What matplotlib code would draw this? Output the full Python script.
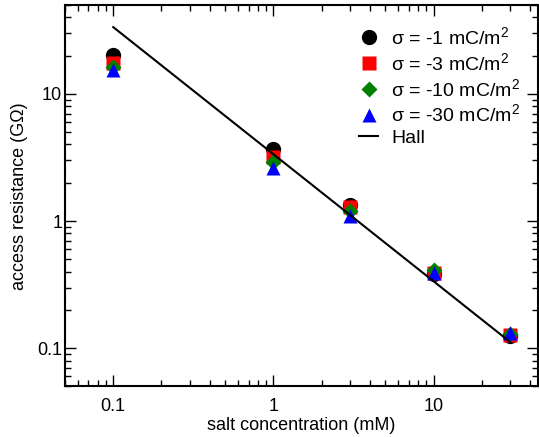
import numpy as np
import matplotlib
matplotlib.use("Agg")
import matplotlib.pyplot as plt
from matplotlib.ticker import LogLocator, FixedLocator, NullFormatter

plt.rcParams["font.family"] = ["Liberation Sans", "DejaVu Sans"]
plt.rcParams["mathtext.fontset"] = "custom"
plt.rcParams["mathtext.rm"] = "Liberation Sans"
plt.rcParams["mathtext.it"] = "Liberation Sans:italic"

# data
salt = [0.1, 1, 3, 10, 30]
r_sig1 = [20.1, 3.7, 1.33, 0.38, 0.125]
r_sig3 = [17.4, 3.2, 1.30, 0.39, 0.127]
r_sig10 = [16.2, 2.9, 1.20, 0.41, 0.130]
r_sig30 = [15.3, 2.6, 1.10, 0.39, 0.132]
hall_x = [0.1, 30]
hall_y = [33.5, 0.112]

labels = ["σ = -1 mC/m$^2$", "σ = -3 mC/m$^2$",
          "σ = -10 mC/m$^2$", "σ = -30 mC/m$^2$"]

fig = plt.figure(figsize=(5.39, 4.37), dpi=100)
ax = fig.add_axes([0.1206, 0.1156, 0.878, 0.873])

ax.plot(salt, r_sig1, "o", color="black", ms=11, mec="none", label=labels[0])
ax.plot(salt, r_sig3, "s", color="red", ms=10, mec="none", label=labels[1])
ax.plot(salt, r_sig10, "D", color="green", ms=7.8, mec="none", label=labels[2])
ax.plot(salt, r_sig30, "^", color="blue", ms=10.5, mec="none", label=labels[3])
ax.plot(hall_x, hall_y, "-", color="black", lw=1.5, label="Hall")

ax.set_xscale("log")
ax.set_yscale("log")
ax.set_xlim(0.05, 45)
ax.set_ylim(0.05, 50)

ax.xaxis.set_major_locator(FixedLocator([0.1, 1, 10]))
ax.yaxis.set_major_locator(FixedLocator([0.1, 1, 10]))
ax.set_xticklabels(["0.1", "1", "10"])
ax.set_yticklabels(["0.1", "1", "10"])
ax.xaxis.set_minor_locator(LogLocator(base=10, subs=np.arange(2, 10), numticks=20))
ax.yaxis.set_minor_locator(LogLocator(base=10, subs=np.arange(2, 10), numticks=20))
ax.xaxis.set_minor_formatter(NullFormatter())
ax.yaxis.set_minor_formatter(NullFormatter())

ax.tick_params(which="both", direction="in", top=True, right=True, width=1, labelsize=13)
ax.tick_params(which="major", length=8)
ax.tick_params(which="minor", length=4.5)
ax.tick_params(axis="x", pad=8)
ax.tick_params(axis="y", pad=2)
for s in ax.spines.values():
    s.set_linewidth(1.5)

ax.set_xlabel("salt concentration (mM)", fontsize=13, labelpad=2)
ax.set_ylabel("access resistance (GΩ)", fontsize=13, labelpad=7)

ax.legend(loc="upper left", bbox_to_anchor=(0.666, 0.94), bbox_transform=fig.transFigure,
          frameon=False, fontsize=14, handlelength=1.0, handletextpad=0.65,
          labelspacing=0.2, borderpad=0, borderaxespad=0, numpoints=1)

fig.savefig("out.png", dpi=100)
